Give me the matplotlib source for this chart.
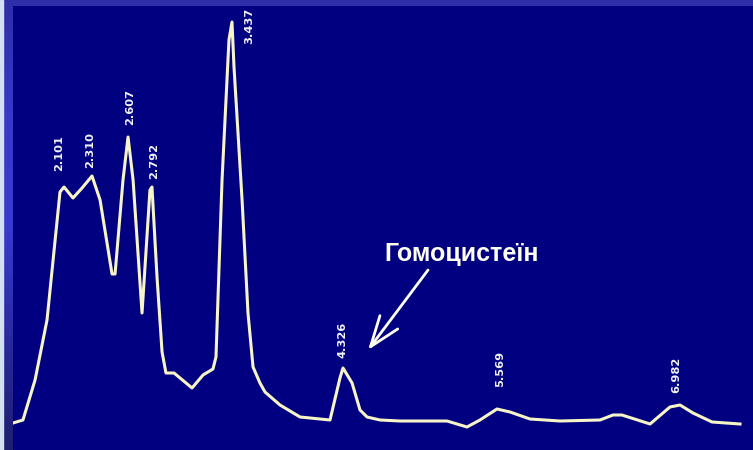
import matplotlib
matplotlib.use('Agg')
import matplotlib.pyplot as plt
from matplotlib.colors import LinearSegmentedColormap
import numpy as np

# chromatogram trace: retention time (min) and detector signal (arb. units)
rt = [1.712, 1.791, 1.887, 1.982, 2.085, 2.117, 2.188, 2.260, 2.339, 2.403,
      2.498, 2.522, 2.585, 2.625, 2.665, 2.736, 2.799, 2.815, 2.855, 2.895,
      2.926, 2.990, 3.133, 3.220, 3.299, 3.323, 3.371, 3.426, 3.450, 3.466,
      3.530, 3.577, 3.617, 3.672, 3.712, 3.831, 3.990, 4.228, 4.307, 4.331,
      4.403, 4.466, 4.522, 4.625, 4.784, 5.157, 5.315, 5.418, 5.553, 5.657,
      5.815, 6.053, 6.371, 6.474, 6.545, 6.768, 6.926, 7.006, 7.109, 7.260,
      7.482]
signal = [27, 30, 70, 130, 258, 263, 252, 262, 274, 250,
          176, 176, 270, 313, 270, 137, 260, 263, 173, 98,
          77, 77, 62, 75, 81, 93, 270, 410, 428, 383,
          250, 137, 83, 67, 58, 45, 33, 30, 72, 82,
          67, 40, 33, 30, 29, 29, 23, 30, 41, 38,
          31, 29, 30, 35, 35, 26, 43, 45, 37, 28,
          26]

peak_labels = ['2.101', '2.310', '2.607', '2.792', '3.437', '4.326', '5.569', '6.982']
peak_rt = [float(p) for p in peak_labels]

# label offsets in pixels (dx, dy) from peak top
label_offsets = [(-3, 16), (2, 8), (4, 12), (5, 8), (19, -22), (0, 10), (1, 22), (-1, 12)]

navy = '#000080'
band = '#2e2ea8'
cream = '#f7f4c8'

fig = plt.figure(figsize=(7.53, 4.5), dpi=100)
fig.patch.set_facecolor(band)

# pale strip on far left
fig.patches.append(plt.Rectangle((0, 0), 3 / 753, 1, transform=fig.transFigure,
                                 color='#d2e0f0', zorder=0))

# blue gradient strip
ax_grad = fig.add_axes([3 / 753, 0, 10 / 753, 1])
cmap = LinearSegmentedColormap.from_list('strip', ['#2e2ea8', '#3838c8', '#3a3ad0', '#2a2aa0', '#1e1e70'])
ax_grad.imshow(np.linspace(0, 1, 256).reshape(-1, 1), aspect='auto', cmap=cmap)
ax_grad.set_axis_off()

ax = fig.add_axes([13 / 753, 0, 740 / 753, 444 / 450])
ax.set_facecolor(navy)
ax.plot(rt, signal, color=cream, lw=2.2, solid_joinstyle='round')
ax.set_xlim(1.712, 1.712 + 740 / 126)
ax.set_ylim(0, 444)
for s in ax.spines.values():
    s.set_visible(False)
ax.set_xticks([])
ax.set_yticks([])

rt_arr = np.array(rt)
sig_arr = np.array(signal)
for lab, t, (dx, dy) in zip(peak_labels, peak_rt, label_offsets):
    near = np.abs(rt_arr - t) < 0.06
    top = sig_arr[near].max()
    ax.annotate(lab, xy=(t, top), xytext=(dx, dy), textcoords='offset pixels',
                rotation=90, ha='center', va='bottom', color='#f2f2f2',
                fontsize=8.2, fontweight='bold', family='DejaVu Sans')

ax.text(5.27, 189, 'Гомоцистеїн', color='#fffff0', fontsize=18, fontweight='bold',
        family=['Liberation Sans', 'DejaVu Sans'], ha='center', va='baseline')
ax.annotate('', xy=(4.530, 100), xytext=(5.006, 180),
            arrowprops=dict(arrowstyle='->,head_length=2.2,head_width=0.8',
                            color='#fffff0', lw=2, mutation_scale=10,
                            shrinkA=0, shrinkB=0))

fig.savefig('out.png', dpi=100, facecolor=fig.get_facecolor())
